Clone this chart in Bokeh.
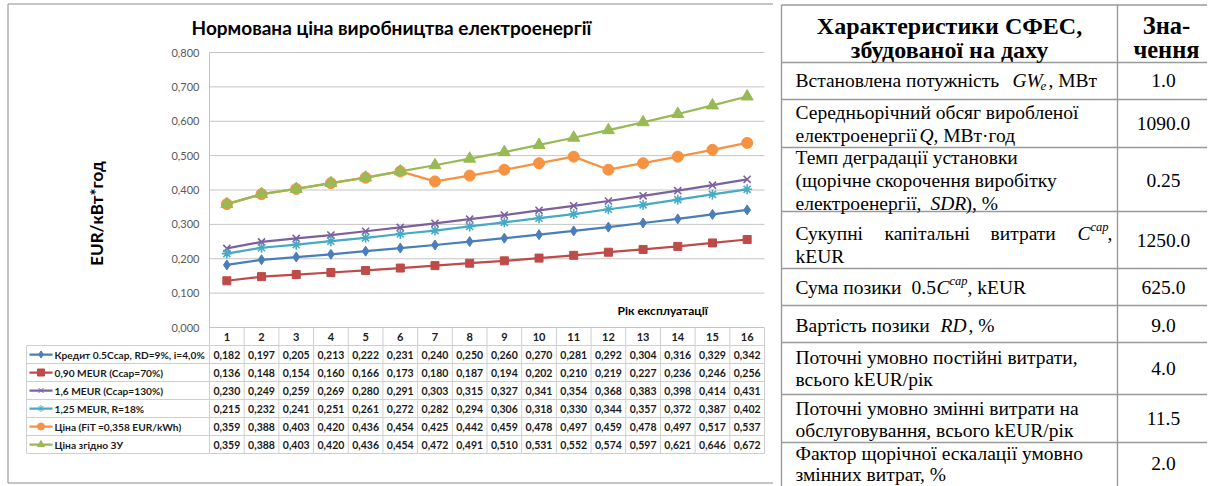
import math
from bokeh.plotting import figure
from bokeh.models import Range1d
from bokeh.layouts import row
from bokeh.embed import file_html
from bokeh.resources import INLINE
from bokeh.core.properties import value

# ---------------- data ----------------
years = list(range(1, 17))
credit_05ccap = [0.182, 0.197, 0.205, 0.213, 0.222, 0.231, 0.240, 0.250, 0.260, 0.270, 0.281, 0.292, 0.304, 0.316, 0.329, 0.342]
meur_090 = [0.136, 0.148, 0.154, 0.160, 0.166, 0.173, 0.180, 0.187, 0.194, 0.202, 0.210, 0.219, 0.227, 0.236, 0.246, 0.256]
meur_160 = [0.230, 0.249, 0.259, 0.269, 0.280, 0.291, 0.303, 0.315, 0.327, 0.341, 0.354, 0.368, 0.383, 0.398, 0.414, 0.431]
meur_125 = [0.215, 0.232, 0.241, 0.251, 0.261, 0.272, 0.282, 0.294, 0.306, 0.318, 0.330, 0.344, 0.357, 0.372, 0.387, 0.402]
price_fit = [0.359, 0.388, 0.403, 0.420, 0.436, 0.454, 0.425, 0.442, 0.459, 0.478, 0.497, 0.459, 0.478, 0.497, 0.517, 0.537]
price_law = [0.359, 0.388, 0.403, 0.420, 0.436, 0.454, 0.472, 0.491, 0.510, 0.531, 0.552, 0.574, 0.597, 0.621, 0.646, 0.672]

series_names = ["Кредит  0.5Ccap, RD=9%, i=4,0%", "0,90 MEUR (Ccap=70%)", "1,6 MEUR  (Ccap=130%)",
                "1,25 MEUR, R=18%", "Ціна (FiT =0,358 EUR/kWh)", "Ціна згідно ЗУ"]
series_values = [credit_05ccap, meur_090, meur_160, meur_125, price_fit, price_law]
series_colors = ["#4A7EBB", "#BE4B48", "#7D60A0", "#46AAC5", "#F69240", "#98B954"]
series_markers = ["diamond", "square", "x", "asterisk", "circle", "triangle"]
marker_sizes = [10, 8, 10, 10, 11, 12]

y_ticks = [0.0, 0.1, 0.2, 0.3, 0.4, 0.5, 0.6, 0.7, 0.8]
y_tick_labels = ["0,000", "0,100", "0,200", "0,300", "0,400", "0,500", "0,600", "0,700", "0,800"]
chart_title = "Нормована ціна виробництва електроенергії"
y_label = "EUR/кВт*год"
x_label = "Рік експлуатації"

# right-hand table
char_header = ["Характеристики СФЕС,", "збудованої на даху"]
val_header = ["Зна-", "чення"]
char_values = ["1.0", "1090.0", "0.25", "1250.0", "625.0", "9.0", "4.0", "11.5", "2.0"]

# ---------------- layout constants (page pixels) ----------------
H = 486
LW = 774
RW = 433
FX0, FX1, FY0, FY1 = 0.0, float(LW), 0.0, float(H)
PL, PR, PT, PB = 209.0, 764.0, 52.0, 327.0        # plot area box
YMAX = 0.8
n = len(years)
ux = (PR - PL) / n
uy = (PB - PT) / YMAX

CAL = value("Lato")
SERIF = value("Liberation Serif")
GRID = "#c4c4c4"
TBL = "#cfcfcf"
TXT = "#1a1a1a"

p = figure(width=LW, height=H,
           x_range=Range1d(0.5 - (PL - FX0) / ux, n + 0.5 + (FX1 - PR) / ux),
           y_range=Range1d(-(FY1 - PB) / uy, YMAX + (PT - FY0) / uy),
           output_backend="svg", toolbar_location=None, min_border=0,
           x_axis_location=None, y_axis_location=None, outline_line_color=None,
           background_fill_color="white", border_fill_color="white")
p.grid.visible = False
p.extra_x_ranges = {"px": Range1d(FX0, FX1)}
p.extra_y_ranges = {"py": Range1d(FY1, FY0)}
PX = dict(x_range_name="px", y_range_name="py")

# panel border (left, top, bottom)
p.segment(x0=[7.5, 7.5, 7.5], x1=[7.5, 772.5, 772.5],
          y0=[3.5, 3.5, 482.5], y1=[482.5, 3.5, 482.5],
          line_color="#8c8c8c", line_width=1, **PX)

# grid lines and axes (chart scale)
gy = y_ticks[1:]
p.segment(x0=[0.5] * len(gy), x1=[n + 0.5] * len(gy), y0=gy, y1=gy, line_color=GRID, line_width=1)
p.segment(x0=[0.5], x1=[0.5], y0=[0.0], y1=[YMAX], line_color=GRID, line_width=1)
p.segment(x0=[0.5], x1=[n + 0.5], y0=[0.0], y1=[0.0], line_color=GRID, line_width=1)

p.text(x=[0.5] * len(y_ticks), y=y_ticks, text=y_tick_labels, x_offset=-10,
       text_align="right", text_baseline="middle", text_font=CAL, text_font_size="11px",
       text_color="#595959")

# titles
p.text(x=[391], y=[27], text=[chart_title], text_align="center", text_baseline="middle",
       text_font=CAL, text_font_size="19px", text_font_style="bold", text_color="#000000", **PX)
p.text(x=[96], y=[213], text=[y_label], angle=math.pi / 2, text_align="center", text_baseline="middle",
       text_font=CAL, text_font_size="17px", text_font_style="bold", text_color="#000000", **PX)
p.text(x=[617], y=[310], text=[x_label], text_align="left", text_baseline="middle",
       text_font=CAL, text_font_size="12px", text_font_style="bold", text_color="#000000", **PX)

# data series
for vals, col, mk, ms in zip(series_values, series_colors, series_markers, marker_sizes):
    p.line(x=years, y=vals, line_color=col, line_width=2.25)
    p.scatter(x=years, y=vals, marker=mk, size=ms, fill_color=col, line_color=col,
              line_width=1.6 if mk in ("x", "asterisk") else 1)

# ---------------- data table under the chart ----------------
HEAD_TOP, HEAD_H, ROW_H = 327.0, 18.0, 18.0
LEG_L = 26.0
rows_top = HEAD_TOP + HEAD_H
row_lines = [rows_top + k * ROW_H for k in range(len(series_values) + 1)]
tbl_bottom = row_lines[-1]
p.segment(x0=[LEG_L] * len(row_lines), x1=[PR] * len(row_lines), y0=row_lines, y1=row_lines,
          line_color=TBL, line_width=1, **PX)
p.segment(x0=[LEG_L], x1=[LEG_L], y0=[rows_top], y1=[tbl_bottom], line_color=TBL, line_width=1, **PX)
bounds = [i + 0.5 for i in range(n + 1)]
p.segment(x0=bounds, x1=bounds, y0=[HEAD_TOP] * len(bounds), y1=[tbl_bottom] * len(bounds),
          line_color=TBL, line_width=1, y_range_name="py")

p.text(x=years, y=[HEAD_TOP + HEAD_H / 2] * n, text=[str(y) for y in years], text_align="center",
       text_baseline="middle", text_font=CAL, text_font_size="11px", text_font_style="bold",
       text_color=TXT, y_range_name="py")

for k, (name, vals, col, mk) in enumerate(zip(series_names, series_values, series_colors, series_markers)):
    yc = rows_top + k * ROW_H + ROW_H / 2
    p.segment(x0=[29], x1=[52], y0=[yc], y1=[yc], line_color=col, line_width=2.25, **PX)
    p.scatter(x=[40.5], y=[yc], marker=mk, size=7, fill_color=col, line_color=col, **PX)
    p.text(x=[54], y=[yc], text=[name], text_align="left", text_baseline="middle",
           text_font=CAL, text_font_size="10.2px", text_font_style="bold", text_color=TXT, **PX)
    p.text(x=years, y=[yc] * n, text=[f"{v:.3f}".replace(".", ",") for v in vals], text_align="center",
           text_baseline="middle", text_font=CAL, text_font_size="10.5px", text_font_style="bold",
           text_color=TXT, y_range_name="py")

# ---------------- right table ----------------
TX0, TXD, TXR = 781.0, 1117.0, 1207.0
q = figure(width=RW, height=H, x_range=Range1d(774, 774 + RW), y_range=Range1d(H, 0),
           output_backend="svg", toolbar_location=None, min_border=0,
           x_axis_location=None, y_axis_location=None, outline_line_color=None,
           background_fill_color="white", border_fill_color="white")
q.grid.visible = False

tbl_lines = [4.5, 62, 99, 147, 211, 268, 305, 342, 394, 442]
q.segment(x0=[TX0] * len(tbl_lines), x1=[TXR] * len(tbl_lines), y0=tbl_lines, y1=tbl_lines,
          line_color="#9a9a9a", line_width=1.4)
q.segment(x0=[TX0, TXD], x1=[TX0, TXD], y0=[4.5, 4.5], y1=[H, H], line_color="#9a9a9a", line_width=1.4)

q.text(x=[949, 949], y=[25, 49], text=char_header, text_align="center", text_baseline="middle",
       text_font=SERIF, text_font_size="24px", text_font_style="bold", text_color="#000000")
q.text(x=[1166, 1166], y=[25, 49], text=val_header, text_align="center", text_baseline="middle",
       text_font=SERIF, text_font_size="24.5px", text_font_style="bold", text_color="#000000")

value_y = [80, 123, 180, 240, 287, 325, 368, 418, 463]
q.text(x=[1163] * len(char_values), y=value_y, text=char_values, text_align="center", text_baseline="middle",
       text_font=SERIF, text_font_size="19.5px", text_color="#000000")

FS = 19.5
# row labels: (x, y, text, style, size)
segs = [
    (795, 80, "Встановлена потужність", "normal", FS), (1012, 80, "GW", "italic", FS),
    (1040, 85, "e", "italic", 13), (1048, 80, ", МВт", "normal", FS),
    (795, 112, "Середньорічний обсяг виробленої", "normal", FS),
    (795, 135, "електроенергії", "normal", FS), (919, 135, "Q", "italic", FS), (933, 135, ", МВт·год", "normal", FS),
    (795, 157, "Темп деградації установки", "normal", FS),
    (795, 180, "(щорічне скорочення виробітку", "normal", FS),
    (795, 203, "електроенергії,", "normal", FS), (930, 203, "SDR", "italic", FS), (965, 203, "), %", "normal", FS),
    (795, 233, "Сукупні", "normal", FS), (884, 233, "капітальні", "normal", FS), (990, 233, "витрати", "normal", FS),
    (1077, 233, "C", "italic", FS), (1090, 226, "cap", "italic", 12.5), (1107, 233, ",", "normal", FS),
    (795, 256, "kEUR", "normal", FS),
    (795, 287, "Сума позики", "normal", FS), (911, 287, "0.5", "normal", FS), (936, 287, "C", "italic", FS),
    (949, 280, "cap", "italic", 12.5), (967, 287, ",  kEUR", "normal", FS),
    (795, 325, "Вартість позики", "normal", FS), (940, 325, "RD", "italic", FS), (968, 325, ", %", "normal", FS),
    (795, 357, "Поточні умовно постійні витрати,", "normal", FS),
    (795, 379, "всього kEUR/рік", "normal", FS),
    (795, 408, "Поточні умовно змінні витрати на", "normal", FS),
    (795, 430, "обслуговування, всього kEUR/рік", "normal", FS),
    (795, 453, "Фактор щорічної ескалації умовно", "normal", FS),
    (795, 474, "змінних витрат, %", "normal", FS),
]
for sx, sy, st, sstyle, ssize in segs:
    q.text(x=[sx], y=[sy], text=[st], text_align="left", text_baseline="middle",
           text_font=SERIF, text_font_size=f"{ssize}px", text_font_style=sstyle, text_color="#000000")

layout = row(p, q)
with open("out.html", "w", encoding="utf-8") as f:
    f.write(file_html(layout, INLINE))
